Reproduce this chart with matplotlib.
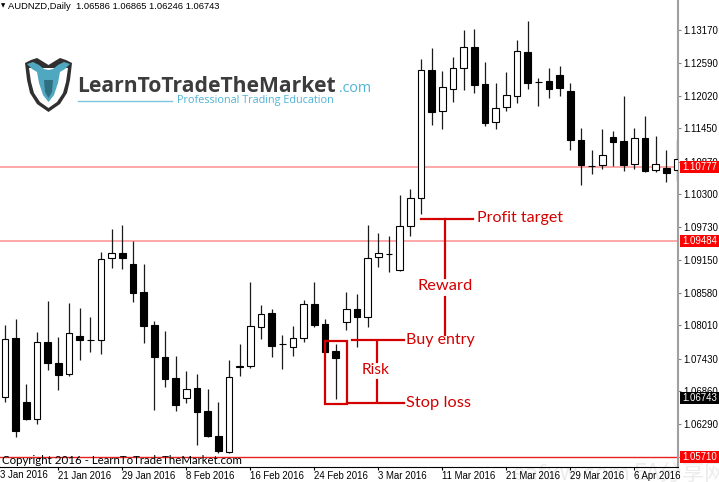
import numpy as np
import matplotlib.pyplot as plt
import matplotlib.transforms as mtransforms
from matplotlib.patches import Rectangle, Polygon

# AUDNZD daily candles (bar 0 = 14 Jan 2016)
opens = [1.06754, 1.07785, 1.06678, 1.06370, 1.07726, 1.07348, 1.07156, 1.07830,
         1.07760, 1.07755, 1.09182, 1.09270, 1.09078, 1.08594, 1.08017, 1.07458,
         1.07086, 1.06737, 1.06912, 1.06515, 1.06084, 1.05804, 1.07278, 1.07306,
         1.07988, 1.08232, 1.07685, 1.07638, 1.07785, 1.08379, 1.08035, 1.07563,
         1.08075, 1.08292, 1.08162, 1.09200, 1.09257, 1.08978, 1.09741, 1.10241,
         1.12471, 1.11755, 1.12134, 1.12501, 1.12868, 1.12222, 1.11563, 1.11830,
         1.12017, 1.12791, 1.12267, 1.12279, 1.12379, 1.12105, 1.11243, 1.10803,
         1.10807, 1.11296, 1.11231, 1.10824, 1.11284, 1.10725, 1.10765, 1.10725]
highs = [1.08017, 1.08122, 1.06987, 1.07890, 1.08436, 1.07802, 1.08396, 1.08319,
         1.08157, 1.09287, 1.09694, 1.09764, 1.09485, 1.09078, 1.08087, 1.07912,
         1.07481, 1.07214, 1.07167, 1.06899, 1.06667, 1.07411, 1.07685, 1.08763,
         1.08367, 1.08292, 1.07843, 1.08005, 1.08454, 1.08768, 1.08122, 1.07691,
         1.08599, 1.08554, 1.09764, 1.09629, 1.09572, 1.10288, 1.10393, 1.12663,
         1.12850, 1.12454, 1.12693, 1.13170, 1.13182, 1.12611, 1.12239, 1.12436,
         1.12995, 1.13332, 1.12332, 1.12512, 1.12541, 1.12239, 1.11458, 1.11079,
         1.11436, 1.11406, 1.12022, 1.11458, 1.11663, 1.11324, 1.11069, 1.11254]
lows = [1.06667, 1.06066, 1.06358, 1.06293, 1.07231, 1.06882, 1.07132, 1.07406,
        1.07540, 1.07511, 1.09008, 1.08995, 1.08419, 1.07708, 1.06533, 1.06929,
        1.06520, 1.06660, 1.05921, 1.06066, 1.05776, 1.05776, 1.07126, 1.07271,
        1.07773, 1.07453, 1.07249, 1.07476, 1.07726, 1.07988, 1.07551, 1.06725,
        1.07930, 1.07638, 1.07988, 1.09036, 1.08948, 1.08961, 1.09572, 1.09951,
        1.11505, 1.11446, 1.11918, 1.12122, 1.12075, 1.11493, 1.11446, 1.11760,
        1.11900, 1.12134, 1.11843, 1.11988, 1.12017, 1.11074, 1.10457, 1.10660,
        1.10747, 1.10795, 1.10702, 1.10747, 1.10690, 1.10690, 1.10520, 1.10538]
closes = [1.07767, 1.06161, 1.06370, 1.07726, 1.07348, 1.07144, 1.07872, 1.07750,
          1.07760, 1.09165, 1.09270, 1.09193, 1.08571, 1.08000, 1.07453, 1.07079,
          1.06615, 1.06894, 1.06503, 1.06078, 1.05816, 1.07104, 1.07306, 1.08000,
          1.08215, 1.07656, 1.07685, 1.07795, 1.08389, 1.08012, 1.07551, 1.07436,
          1.08292, 1.08152, 1.09193, 1.09270, 1.09257, 1.09741, 1.10241, 1.12471,
          1.11738, 1.12180, 1.12501, 1.12868, 1.12204, 1.11551, 1.11802, 1.12029,
          1.12798, 1.12250, 1.12267, 1.12134, 1.12162, 1.11243, 1.10807, 1.10803,
          1.10987, 1.11214, 1.10817, 1.11284, 1.10712, 1.10835, 1.10677, 1.10922]

date_idx = [5, 11, 17, 23, 29, 35, 41, 47, 53, 59]
date_labels = ['21 Jan 2016', '29 Jan 2016', '8 Feb 2016', '16 Feb 2016', '24 Feb 2016',
               '3 Mar 2016', '11 Mar 2016', '21 Mar 2016', '29 Mar 2016', '6 Apr 2016']
price_ticks = [1.13170, 1.12590, 1.12020, 1.11450, 1.10870, 1.10300, 1.09730,
               1.09150, 1.08580, 1.08010, 1.07430, 1.06860, 1.06290, 1.05710]

level_lines = [1.10777, 1.09484]
low_line = 1.05710
last_price = 1.06743

# trade annotation levels
signal_bar = 31
entry = 1.07755
stop = 1.06660
target = 1.09869
red = '#d40000'

W, H = 719, 482
fig = plt.figure(figsize=(W / 100, H / 100), dpi=100)
fig.patch.set_facecolor('white')
ax = fig.add_axes([0, 15 / H, 678 / W, 467 / H])
ax.patch.set_alpha(0)
ax.set_xlim(-0.469, 63.09)
ax.set_ylim(1.05537, 1.13694)

o = np.array(opens); h = np.array(highs); l = np.array(lows); c = np.array(closes)
x = np.arange(len(o))
ax.vlines(x, l, h, color='#1a1a1a', lw=0.9, zorder=2)
body_col = ['white' if cc >= oo else 'black' for oo, cc in zip(o, c)]
ax.bar(x, np.abs(c - o), bottom=np.minimum(o, c), width=0.64, color=body_col,
       edgecolor='black', linewidth=0.8, zorder=3)

for lv in level_lines:
    ax.axhline(lv, color='#ff9a9a', lw=1.2, zorder=1)
ax.axhline(low_line, color='#e82020', lw=1.0, zorder=1)

# annotations
ax.add_patch(Rectangle((signal_bar - 1.0, 1.06637), 2.09, 1.07743 - 1.06637,
                       fill=False, ec=red, lw=1.6, zorder=5))
ax.plot([32.53, 37.4], [entry, entry], color=red, lw=1.6, zorder=5)
ax.plot([32.09, 37.4], [stop, stop], color=red, lw=1.6, zorder=5)
ax.plot([34.9, 34.9], [1.07721, 1.07371], color=red, lw=1.6, zorder=5)
ax.plot([34.9, 34.9], [1.07057, 1.06695], color=red, lw=1.6, zorder=5)
ax.plot([39.0, 43.9], [target, target], color=red, lw=1.6, zorder=5)
ax.plot([41.25, 41.25], [target, 1.08838], color=red, lw=1.6, zorder=5)
ax.plot([41.25, 41.25], [1.08506, 1.07843], color=red, lw=1.6, zorder=5)

afont = 'Lato'
ann = [
    (37.6, entry, 'Buy entry', 'left', 69),
    (37.6, stop, 'Stop loss', 'left', 65),
    (34.73, 1.07231, 'Risk', 'center', 28),
    (41.25, 1.08698, 'Reward', 'center', 55),
    (44.22, target + 0.0002, 'Profit target', 'left', 86),
]
ann_texts = []
for ax_x, ax_y, s, ha, wpx in ann:
    t = ax.text(ax_x, ax_y, s, ha=ha, va='center', color=red, fontsize=12.5,
                family=afont, zorder=6)
    ann_texts.append((t, wpx))

# axes styling
for sp in ['top', 'left']:
    ax.spines[sp].set_visible(False)
ax.spines['right'].set_color('#a0a0a0')
ax.spines['right'].set_linewidth(1.5)
ax.spines['bottom'].set_color('black')
ax.spines['bottom'].set_linewidth(0.8)
ax.yaxis.tick_right()
ax.set_yticks(price_ticks)
ax.set_yticklabels(['%.5f' % p for p in price_ticks])
ax.set_xticks(date_idx)
ax.set_xticklabels(date_labels, ha='left')
ax.tick_params(axis='y', direction='out', length=2.5, width=0.8, color='#808080',
               pad=1.5, labelsize=6.9, labelfontfamily='Liberation Sans')
ax.tick_params(axis='x', direction='out', length=2.5, width=0.8, color='black',
               pad=0.5, labelsize=6.9, labelfontfamily='Liberation Sans')
fig.text(0.5 / W, 1 - 475 / H, '3 Jan 2016', fontsize=6.9, family='Liberation Sans',
         ha='left', va='center')

# price boxes on the right scale
blend = mtransforms.blended_transform_factory(ax.transAxes, ax.transData)
box_h = 12 / 5725
for p, fc in [(level_lines[0], '#ff0000'), (level_lines[1], '#ff0000'),
              (last_price, 'black'), (low_line, '#ff0000')]:
    ax.add_patch(Rectangle((680 / 678, p - box_h / 2), 0.062, box_h, transform=blend,
                           fc=fc, ec='none', clip_on=False, zorder=8))
    ax.text(682 / 678, p, '%.5f' % p, transform=blend, ha='left', va='center',
            color='white', fontsize=6.9, family='Liberation Sans', clip_on=False, zorder=9)

def fx(px):
    return px / W

def fy(py):
    return 1 - py / H

# header and copyright
fig.text(fx(0.5), fy(6), '\u25bc', fontsize=4, ha='left', va='center')
hdr = fig.text(fx(8), fy(6.5), 'AUDNZD,Daily  1.06586 1.06865 1.06246 1.06743',
               fontsize=7, family='Liberation Sans', ha='left', va='center')
cpy = fig.text(fx(2), fy(461), 'Copyright 2016 - LearnToTradeTheMarket.com',
               fontsize=9.5, family='Lato', ha='left', va='center')

# logo
shield = [(25, 63), (31, 60), (37, 58), (42, 61), (48.5, 65), (55, 61), (60, 58),
          (66, 60), (72, 63), (70, 80), (67, 93), (60, 104), (48.5, 112), (37, 104),
          (30, 93), (27, 80)]
inner = [(29, 68), (68, 68), (66, 82), (63, 93), (57, 102), (48.5, 108), (40, 102),
         (34, 93), (31, 82)]
head = [(27, 64), (33, 62), (39, 65), (44, 69), (48.5, 70), (53, 69), (58, 65),
        (64, 62), (70, 64), (65, 69), (60, 72), (58, 83), (54, 95), (48.5, 102),
        (43, 95), (39, 83), (37, 72), (32, 69)]
for pts, col in [(shield, '#303030'), (inner, 'white'), (head, '#4fa8bf')]:
    fig.add_artist(Polygon([(fx(a), fy(b)) for a, b in pts], closed=True,
                           transform=fig.transFigure, fc=col, ec='none'))
fig.add_artist(Polygon([(fx(a), fy(b)) for a, b in
                        [(44, 80), (53, 80), (52, 92), (48.5, 98), (45, 92)]],
                       closed=True, transform=fig.transFigure, fc='#2f6f82', ec='none'))
brand = fig.text(fx(77), fy(92.5), 'LearnToTradeTheMarket', fontsize=20, family='Open Sans',
                 weight='bold', color='#3c3c3c', ha='left', va='baseline')
dotcom = fig.text(fx(339), fy(92.5), '.com', fontsize=12, family='Open Sans',
                  color='#4fb3d6', ha='left', va='baseline')
fig.add_artist(plt.Line2D([fx(78), fx(172)], [fy(101), fy(101)], color='#7cc6e0', lw=1.0))
tag = fig.text(fx(177), fy(101), 'Professional Trading Education', fontsize=8,
               family='Open Sans', color='#4fb3d6', ha='left', va='center')

# very faint watermark behind the axes
fig.text(fx(512), fy(480), 'eafxw.com', fontsize=16, color='#ececec',
         ha='left', va='baseline', family=['DejaVu Sans'], zorder=-1)
fig.text(fx(634), fy(480), 'EA分享网', fontsize=16, color='#ececec',
         ha='left', va='baseline', family=['Noto Sans CJK SC', 'DejaVu Sans'], zorder=-1)

# fit text widths to the screenshot
r = fig.canvas.get_renderer()
for t, wpx in ann_texts + [(hdr, 210), (cpy, 243), (brand, 258), (dotcom, 32), (tag, 158)]:
    bb = t.get_window_extent(r)
    t.set_fontsize(t.get_fontsize() * wpx / bb.width)

fig.savefig('out.png', dpi=100, facecolor='white')
